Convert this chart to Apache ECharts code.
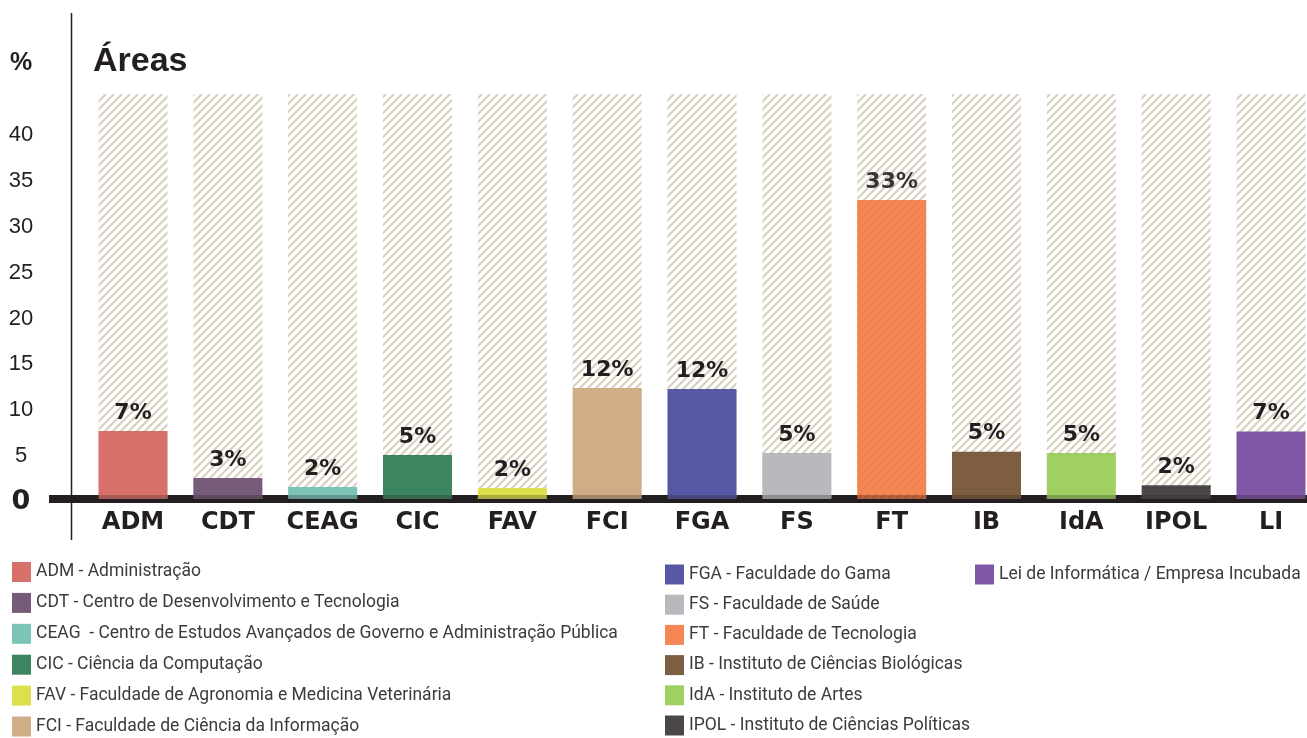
<!DOCTYPE html>
<html>
<head>
<meta charset="utf-8">
<script src="https://cdn.jsdelivr.net/npm/echarts@6/dist/echarts.min.js"></script>
<style>
  html, body { margin: 0; padding: 0; background: #fff; }
  #chart { width: 1307px; height: 738px; }
</style>
</head>
<body>
<div id="chart"></div>
<script>
// Áreas — barras com fundo hachurado

const categories = ['ADM', 'CDT', 'CEAG', 'CIC', 'FAV', 'FCI', 'FGA', 'FS', 'FT', 'IB', 'IdA', 'IPOL', 'LI'];
const barValues = [7.4, 2.3, 1.3, 4.8, 1.2, 12.1, 12.0, 5.0, 32.6, 5.15, 5.0, 1.5, 7.35];
const pctLabels = [7, 3, 2, 5, 2, 12, 12, 5, 33, 5, 5, 2, 7];
const legendNames = [
  'ADM - Administração',
  'CDT - Centro de Desenvolvimento e Tecnologia',
  'CEAG  - Centro de Estudos Avançados de Governo e Administração Pública',
  'CIC - Ciência da Computação',
  'FAV - Faculdade de Agronomia e Medicina Veterinária',
  'FCI - Faculdade de Ciência da Informação',
  'FGA - Faculdade do Gama',
  'FS - Faculdade de Saúde',
  'FT - Faculdade de Tecnologia',
  'IB - Instituto de Ciências Biológicas',
  'IdA - Instituto de Artes',
  'IPOL - Instituto de Ciências Políticas',
  'Lei de Informática / Empresa Incubada',
];
const yTicks = [0, 5, 10, 15, 20, 25, 30, 35, 40];
const colors = ['#d8706a', '#765c78', '#7cc4b7', '#3b8560', '#dde04b', '#d0ad86', '#5658a5',
  '#b8b9bc', '#f47a44', '#7d5e40', '#a1d062', '#4b4748', '#8057a6'];

const INK = '#231f20';
const H = 738;
const gridBottom = 239;
const gridLeft = 133;   // centro da primeira barra
const gridRight = 36;   // 1307 - centro da última barra
const baseY = H - gridBottom;

// hachura diagonal do fundo
const P = 8;
const hatch = document.createElement('canvas');
hatch.width = P;
hatch.height = P;
const hc = hatch.getContext('2d');
hc.strokeStyle = '#d6cfbc';
hc.lineWidth = 2;
hc.beginPath();
hc.moveTo(-1, P + 1); hc.lineTo(P + 1, -1);
hc.moveTo(-1, 1); hc.lineTo(1, -1);
hc.moveTo(P - 1, P + 1); hc.lineTo(P + 1, P - 1);
hc.stroke();

const series = categories.map((code, i) => ({
  name: legendNames[i],
  type: 'bar',
  stack: 'areas',
  barWidth: 69,
  clip: false,
  data: categories.map((c, j) => (j === i ? barValues[j] : '-')),
  itemStyle: { color: colors[i], opacity: code === 'FT' ? 0.9 : 1 },
  showBackground: i === 0,
  backgroundStyle: { color: { image: hatch, repeat: 'repeat' } },
  label: {
    show: true,
    position: 'top',
    distance: 7,
    formatter: p => pctLabels[p.dataIndex] + '%',
    fontFamily: 'DejaVu Sans',
    fontWeight: 'bold',
    fontSize: 22,
    color: INK,
  },
}));

const legendBase = {
  orient: 'vertical',
  icon: 'rect',
  itemWidth: 19,
  itemHeight: 20,
  padding: 0,
  selectedMode: false,
  textStyle: { fontFamily: 'Roboto', fontSize: 17.5, color: '#3b3b3b' },
};

const chart = echarts.init(document.getElementById('chart'));
chart.setOption({
  animation: false,
  title: [
    { text: 'Áreas', left: 93, top: 45, padding: 0,
      textStyle: { fontFamily: 'Liberation Sans', fontWeight: 'bold', fontSize: 34, color: INK } },
    { text: '%', left: 10, top: 51, padding: 0,
      textStyle: { fontFamily: 'Liberation Sans', fontWeight: 'bold', fontSize: 25, color: INK } },
  ],
  legend: [
    Object.assign({}, legendBase, { left: 12, top: 562, itemGap: 10.9, data: legendNames.slice(0, 6) }),
    Object.assign({}, legendBase, { left: 665, top: 564.5, itemGap: 10.2, data: legendNames.slice(6, 12) }),
    Object.assign({}, legendBase, { left: 975, top: 564.5, data: legendNames.slice(12) }),
  ],
  grid: { left: gridLeft, right: gridRight, top: 94, bottom: gridBottom, containLabel: false },
  xAxis: {
    type: 'category',
    data: categories,
    boundaryGap: false,
    axisLine: { show: false },
    axisTick: { show: false },
    axisLabel: {
      interval: 0,
      margin: 12,
      fontFamily: 'DejaVu Sans',
      fontWeight: 'bold',
      fontSize: 24,
      color: INK,
    },
  },
  yAxis: {
    type: 'value',
    min: 0,
    max: 44.14,
    splitLine: { show: false },
    axisLine: { show: false },
    axisTick: { show: false },
    axisLabel: {
      customValues: yTicks,
      align: 'center',
      margin: gridLeft - 21,
      padding: [6, 0, 0, 0],
      fontFamily: 'Liberation Sans',
      fontSize: 22,
      color: INK,
      formatter: v => (v === 0 ? '{z|0}' : String(v)),
      rich: {
        z: { fontFamily: 'DejaVu Sans', fontWeight: 'bold', fontSize: 27, color: INK },
      },
    },
  },
  graphic: [
    { type: 'line', z: 0, silent: true,
      shape: { x1: 71.5, y1: 13, x2: 71.5, y2: 540 },
      style: { stroke: INK, lineWidth: 1.5 } },
    // linha de base (por baixo das barras)
    { type: 'line', z: 0, silent: true,
      shape: { x1: 49, y1: baseY, x2: 1307, y2: baseY },
      style: { stroke: INK, lineWidth: 8 } },
    // véu escuro por cima das barras na linha de base
    { type: 'line', z: 100, silent: true,
      shape: { x1: 49, y1: baseY, x2: 1307, y2: baseY },
      style: { stroke: 'rgba(35,31,32,0.28)', lineWidth: 8 } },
  ],
  series: series,
});
</script>
</body>
</html>
